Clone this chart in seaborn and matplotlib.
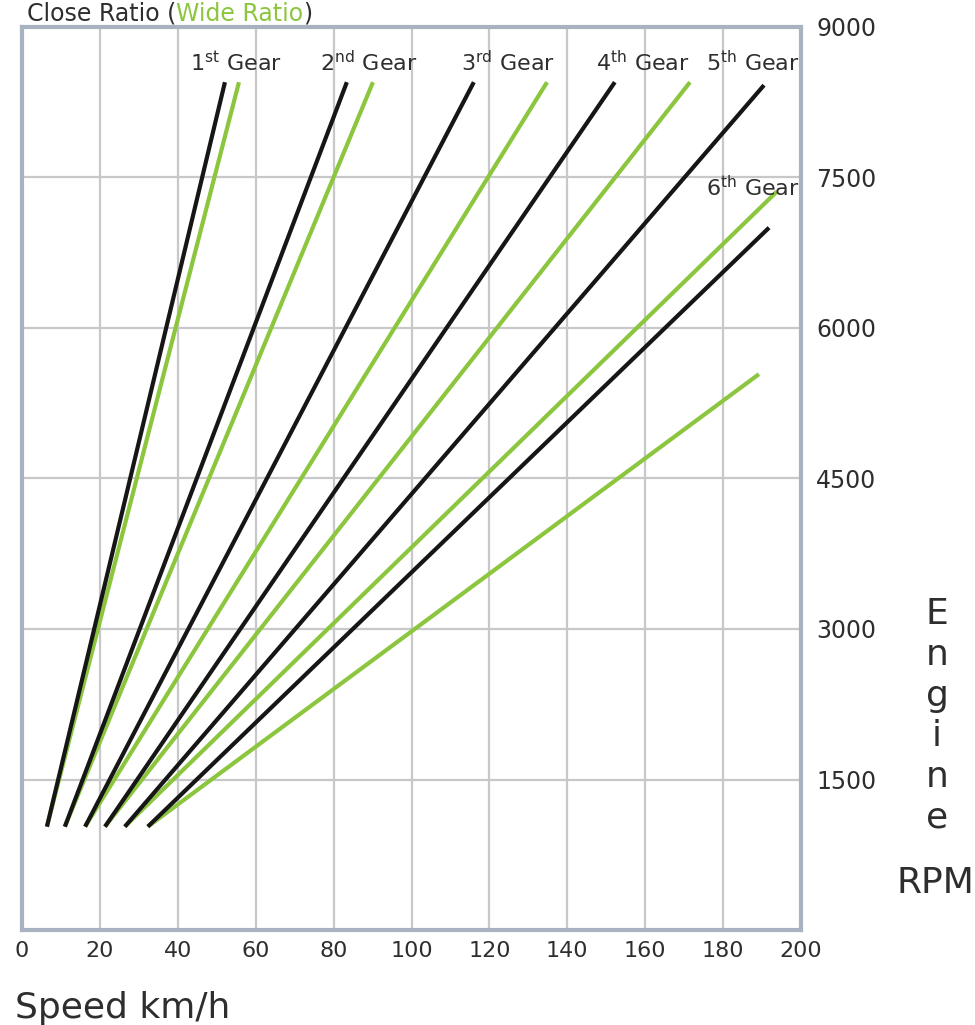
import matplotlib
matplotlib.use("Agg")
import matplotlib.pyplot as plt
import pandas as pd
import seaborn as sns

# Gear lines: engine speed vs road speed, close-ratio and wide-ratio boxes
gears = ["1st", "2nd", "3rd", "4th", "5th", "6th"]
start_speed = [6.4, 11.0, 16.2, 21.3, 26.4, 32.3]
start_rpm = [1030, 1030, 1030, 1030, 1030, 1030]
close_end_speed = [52.1, 83.4, 116.0, 152.2, 190.5, 191.8]
close_end_rpm = [8450, 8450, 8450, 8450, 8420, 7000]
wide_end_speed = [55.7, 90.1, 134.8, 171.5, 193.8, 189.2]
wide_end_rpm = [8450, 8450, 8450, 8450, 7360, 5540]

speed_ticks = list(range(0, 201, 20))
rpm_ticks = [1500, 3000, 4500, 6000, 7500, 9000]

gear_label_text = [r"1$^{\rm st}$ Gear", r"2$^{\rm nd}$ Gear", r"3$^{\rm rd}$ Gear",
                   r"4$^{\rm th}$ Gear", r"5$^{\rm th}$ Gear", r"6$^{\rm th}$ Gear"]

BLACK = "#161616"
GREEN = "#8cc63e"
TEXT = "#2e2e2e"
FRAME = "#a8b2c1"
GRID = "#c8c8cb"


def gear_frame(end_speed, end_rpm):
    rows = []
    for g, s0, r0, s1, r1 in zip(gears, start_speed, start_rpm, end_speed, end_rpm):
        rows.append({"gear": g, "speed": s0, "rpm": r0})
        rows.append({"gear": g, "speed": s1, "rpm": r1})
    return pd.DataFrame(rows)


close_df = gear_frame(close_end_speed, close_end_rpm)
wide_df = gear_frame(wide_end_speed, wide_end_rpm)

sns.set_style("white")
plt.rcParams["font.family"] = ["DejaVu Sans"]
plt.rcParams["mathtext.fontset"] = "dejavusans"

fig = plt.figure(figsize=(9.75, 10.25), dpi=100)
ax = fig.add_axes([22 / 975, 1 - 930 / 1025, (801 - 22) / 975, (930 - 27) / 1025])

sns.lineplot(data=wide_df, x="speed", y="rpm", units="gear", estimator=None,
             sort=False, color=GREEN, lw=3, solid_capstyle="butt", legend=False, ax=ax)
sns.lineplot(data=close_df, x="speed", y="rpm", units="gear", estimator=None,
             sort=False, color=BLACK, lw=3, solid_capstyle="butt", legend=False, ax=ax)

ax.set_xlim(0, 200)
ax.set_ylim(0, 9000)
ax.set_xticks(speed_ticks)
ax.set_yticks(rpm_ticks)
ax.yaxis.tick_right()
ax.set_xlabel("")
ax.set_ylabel("")
ax.grid(True, color=GRID, lw=1.6)
ax.set_axisbelow(True)
for sp in ax.spines.values():
    sp.set_visible(True)
    sp.set_color(FRAME)
    sp.set_linewidth(3)
ax.tick_params(axis="x", length=0, pad=8, labelsize=16, labelcolor=TEXT)
ax.tick_params(axis="y", length=0, pad=11, labelsize=17, labelcolor=TEXT)

# Gear names above the line ends
label_pos = [(55.0, 8650), (89.1, 8650), (124.8, 8650), (159.4, 8650), (187.7, 8650), (187.7, 7400)]
for txt, (lx, ly) in zip(gear_label_text, label_pos):
    ax.text(lx, ly, txt, ha="center", va="center", fontsize=16, color=TEXT, clip_on=False)

# Axis titles
fig.text(15 / 975, 1 - 1018 / 1025, "Speed km/h", fontsize=26, color=TEXT,
         ha="left", va="baseline")
fig.text(937 / 975, 1 - 716 / 1025, "E\nn\ng\ni\nn\ne", fontsize=26, color=TEXT,
         ha="center", va="center", multialignment="center", linespacing=1.25)
fig.text(935 / 975, 1 - 883 / 1025, "RPM", fontsize=26, color=TEXT,
         ha="center", va="center")

# Heading in two colours, chained piece by piece
renderer = fig.canvas.get_renderer()
x_px = 27
base_y = 1 - 21 / 1025
for piece, col in [("Close Ratio (", TEXT), ("Wide Ratio", GREEN), (")", TEXT)]:
    t = fig.text(x_px / 975, base_y, piece, fontsize=17, color=col,
                 ha="left", va="baseline")
    x_px += t.get_window_extent(renderer=renderer).width

fig.savefig("out.png", dpi=100, facecolor="white")
